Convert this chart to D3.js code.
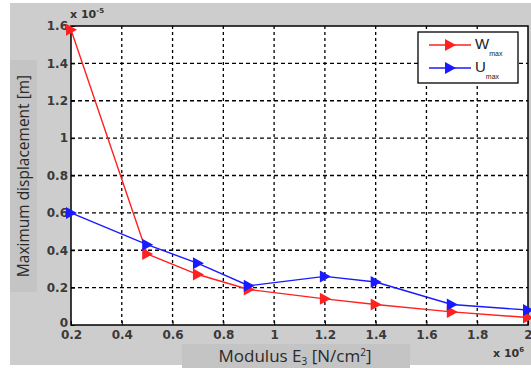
<!DOCTYPE html>
<html lang="en">
<head>
<meta charset="UTF-8">
<title>Maximum displacement vs modulus</title>
<script src="https://d3js.org/d3.v7.min.js"></script>
<style>
  body { margin: 0; padding: 0; background: #fff; }
  svg { display: block; }
  .tick text { font-family: 'DejaVu Sans', sans-serif; font-size: 12px; font-weight: bold; fill: #3a3a3a; }
</style>
</head>
<body>
<svg id="chart" width="531" height="368"></svg>
<script>
// moduli (x 10^6 N/cm^2)
const modulus = [0.2, 0.5, 0.7, 0.9, 1.2, 1.4, 1.7, 2.0];
// displacements (x 10^-5 m)
const wMax = [1.58, 0.38, 0.27, 0.19, 0.14, 0.11, 0.07, 0.04];
const uMax = [0.60, 0.43, 0.33, 0.21, 0.26, 0.23, 0.11, 0.08];
const xTicks = [0.2, 0.4, 0.6, 0.8, 1, 1.2, 1.4, 1.6, 1.8, 2];
const yTicks = [0, 0.2, 0.4, 0.6, 0.8, 1, 1.2, 1.4, 1.6];

var svg = d3.select("#chart");

// figure background
svg.append("rect").attr("x", 10).attr("y", 3).attr("width", 521).attr("height", 362).attr("fill", "#cdcdcd");
// label panels
svg.append("rect").attr("x", 10).attr("y", 60).attr("width", 27).attr("height", 232).attr("fill", "#c4c4c4");
svg.append("rect").attr("x", 182).attr("y", 344).attr("width", 228).attr("height", 24).attr("fill", "#c4c4c4");

var pL = 71, pR = 528, pT = 26, pB = 325;

var x = d3.scaleLinear().domain([0.2, 2]).range([pL, pR]);
var y = d3.scaleLinear().domain([0, 1.6]).range([pB, pT]);

svg.append("rect").attr("x", pL).attr("y", pT).attr("width", pR - pL).attr("height", pB - pT).attr("fill", "#fff");

// grid
var g = svg.append("g");
g.selectAll(".vg").data(xTicks.slice(1, -1)).enter().append("line")
  .attr("x1", d => x(d)).attr("x2", d => x(d)).attr("y1", pT).attr("y2", pB)
  .attr("stroke", "#000").attr("stroke-width", 1.3).attr("stroke-dasharray", "3,3");
g.selectAll(".hg").data(yTicks.slice(1, -1)).enter().append("line")
  .attr("x1", pL).attr("x2", pR).attr("y1", d => y(d)).attr("y2", d => y(d))
  .attr("stroke", "#000").attr("stroke-width", 1.3).attr("stroke-dasharray", "4,3");

// axes
svg.append("g").attr("transform", "translate(0," + pB + ")")
  .call(d3.axisBottom(x).tickValues(xTicks).tickSize(-4).tickPadding(5).tickFormat(d3.format("")))
  .call(a => a.select(".domain").remove());
svg.append("g").attr("transform", "translate(" + pL + ",0)")
  .call(d3.axisLeft(y).tickValues(yTicks).tickSize(-4).tickPadding(3).tickFormat(d3.format("")))
  .call(a => a.select(".domain").remove())
  .call(a => a.selectAll(".tick").filter(d => d === 0).select("text").attr("dy", "0.1em"));

svg.append("rect").attr("x", pL).attr("y", pT).attr("width", pR - pL).attr("height", pB - pT)
  .attr("fill", "none").attr("stroke", "#000").attr("stroke-width", 1.5);

// series
function tri(cx, cy) {
  return "M" + (cx - 5) + "," + (cy - 6) + "L" + (cx + 6) + "," + cy + "L" + (cx - 5) + "," + (cy + 6) + "Z";
}
var series = [{ vals: wMax, color: "#ff2020" }, { vals: uMax, color: "#1a1aff" }];
var line = d3.line().x((d, i) => x(modulus[i])).y(d => y(d));
series.forEach(function (s) {
  svg.append("path").attr("d", line(s.vals)).attr("fill", "none").attr("stroke", s.color).attr("stroke-width", 1.4);
  svg.selectAll(null).data(s.vals).enter().append("path")
    .attr("d", (d, i) => tri(x(modulus[i]), y(d))).attr("fill", s.color);
});

// legend
var lg = svg.append("g");
lg.append("rect").attr("x", 418).attr("y", 32).attr("width", 100).attr("height", 51)
  .attr("fill", "#fff").attr("stroke", "#000").attr("stroke-width", 1.3);
var legendNames = ["W", "U"];
legendNames.forEach(function (n, i) {
  var ly = 45 + i * 23;
  lg.append("line").attr("x1", 429).attr("x2", 471).attr("y1", ly).attr("y2", ly).attr("stroke", series[i].color).attr("stroke-width", 1.5);
  lg.append("path").attr("d", tri(450, ly)).attr("fill", series[i].color);
  var t = lg.append("text").attr("x", 475).attr("y", ly + 4).style("font-family", "Liberation Sans, Arial, sans-serif")
    .style("font-size", "15px").style("fill", "#222").text(n);
  t.append("tspan").attr("dy", 7).style("font-size", "7px").style("fill", "#222").text("max");
});

// exponent labels
var e1 = svg.append("text").attr("x", 70).attr("y", 18).style("font-family", "DejaVu Sans, sans-serif")
  .style("font-size", "11px").style("font-weight", "bold").attr("fill", "#333").text("x 10");
e1.append("tspan").attr("dy", -5).style("font-size", "7px").text("-5");
var e2 = svg.append("text").attr("x", 493).attr("y", 357).style("font-family", "DejaVu Sans, sans-serif")
  .style("font-size", "11px").style("font-weight", "bold").attr("fill", "#333").text("x 10");
e2.append("tspan").attr("dy", -5).style("font-size", "7px").text("6");

// axis titles
svg.append("text").attr("text-anchor", "middle")
  .attr("transform", "translate(29," + 176 + ")rotate(-90)")
  .style("font-family", "Open Sans, sans-serif").style("font-size", "15.5px").attr("fill", "#2a2a2a")
  .text("Maximum displacement [m]");
var xl = svg.append("text").attr("x", 295).attr("y", 362).attr("text-anchor", "middle")
  .style("font-family", "Open Sans, sans-serif").style("font-size", "17px").attr("fill", "#2a2a2a");
xl.append("tspan").text("Modulus E");
xl.append("tspan").attr("dy", 3).style("font-size", "10px").text("3");
xl.append("tspan").attr("dy", -3).text(" [N/cm");
xl.append("tspan").attr("dy", -6).style("font-size", "10px").text("2");
xl.append("tspan").attr("dy", 6).text("]");
</script>
</body>
</html>
